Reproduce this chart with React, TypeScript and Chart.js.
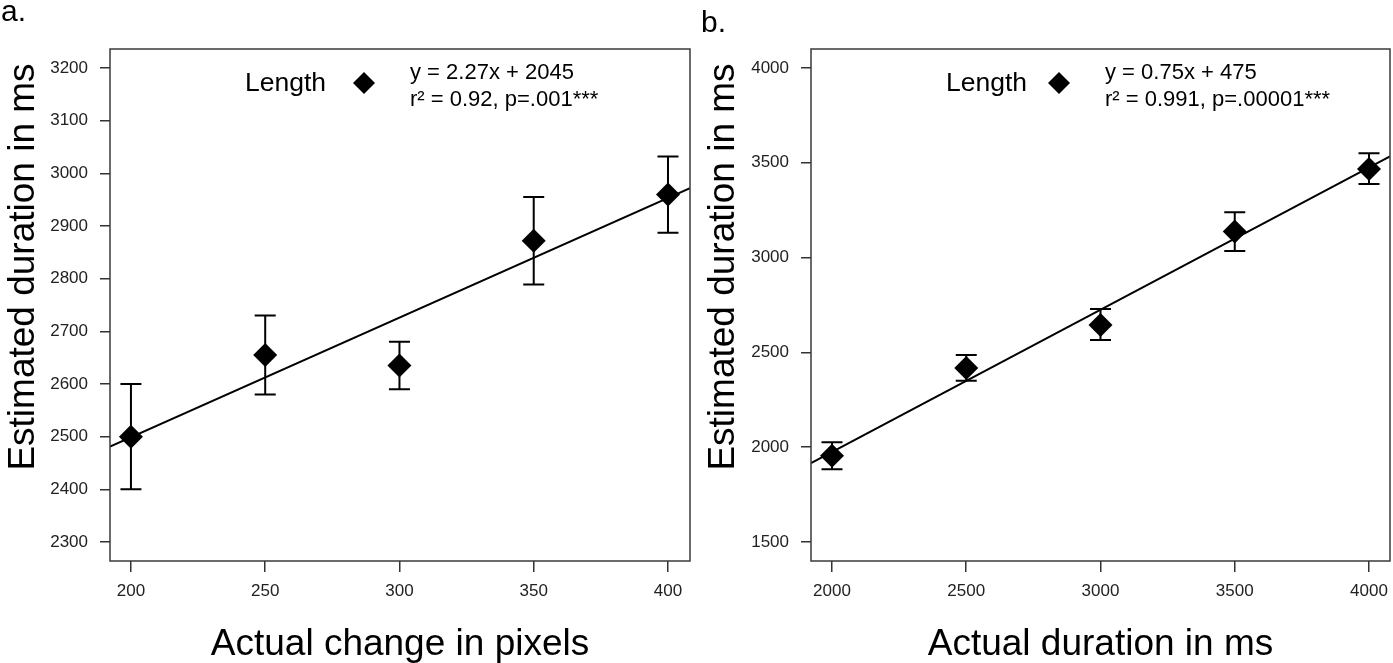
import React, { useEffect, useRef } from 'react';
import { Chart, registerables } from 'chart.js';

Chart.register(...registerables);

const FONT = '"Liberation Sans", Arial, Helvetica, sans-serif';

// Panel a: estimated duration against change in length (pixels)
const pixelChange = [200, 250, 300, 350, 400];
const pixelEstimate = [2500, 2655, 2635, 2872, 2960];
const pixelLow = [2400, 2580, 2590, 2789, 2887];
const pixelHigh = [2600, 2730, 2680, 2955, 3032];
const pixelFit = [2.27, 2045]; // slope, intercept
const pixelXTicks = [200, 250, 300, 350, 400];
const pixelYTicks = [2300, 2400, 2500, 2600, 2700, 2800, 2900, 3000, 3100, 3200];
const pixelXRange = [192.2, 408.2];
const pixelYRange = [2264, 3236];

// Panel b: estimated duration against actual duration (ms)
const durationActual = [2000, 2500, 3000, 3500, 4000];
const durationEstimate = [1955, 2418, 2645, 3137, 3467];
const durationLow = [1884, 2350, 2565, 3035, 3388];
const durationHigh = [2026, 2486, 2729, 3239, 3550];
const durationFit = [0.75, 475]; // slope, intercept
const durationXTicks = [2000, 2500, 3000, 3500, 4000];
const durationYTicks = [1500, 2000, 2500, 3000, 3500, 4000];
const durationXRange = [1921.8, 4078.2];
const durationYRange = [1400, 4100];

type Panel = {
  letter: string;
  letterBaseline: number;
  xTitle: string;
  yTitle: string;
  equation: string[];
  xs: number[];
  ys: number[];
  low: number[];
  high: number[];
  fit: number[];
  xTicks: number[];
  yTicks: number[];
  xRange: number[];
  yRange: number[];
  left: number;
  width: number;
  yAxisWidth: number;
  rightPad: number;
  legendX: number;
  diamondX: number;
  equationX: number;
};

const HEIGHT = 663;

const panels: Panel[] = [
  {
    letter: 'a.',
    letterBaseline: 21,
    xTitle: 'Actual change in pixels',
    yTitle: 'Estimated duration in ms',
    equation: ['y = 2.27x + 2045', 'r\u00B2 = 0.92, p=.001***'],
    xs: pixelChange,
    ys: pixelEstimate,
    low: pixelLow,
    high: pixelHigh,
    fit: pixelFit,
    xTicks: pixelXTicks,
    yTicks: pixelYTicks,
    xRange: pixelXRange,
    yRange: pixelYRange,
    left: 0,
    width: 700,
    yAxisWidth: 110,
    rightPad: 10,
    legendX: 245,
    diamondX: 364,
    equationX: 410,
  },
  {
    letter: 'b.',
    letterBaseline: 32,
    xTitle: 'Actual duration in ms',
    yTitle: 'Estimated duration in ms',
    equation: ['y = 0.75x + 475', 'r\u00B2 = 0.991, p=.00001***'],
    xs: durationActual,
    ys: durationEstimate,
    low: durationLow,
    high: durationHigh,
    fit: durationFit,
    xTicks: durationXTicks,
    yTicks: durationYTicks,
    xRange: durationXRange,
    yRange: durationYRange,
    left: 700,
    width: 693,
    yAxisWidth: 111,
    rightPad: 3,
    legendX: 246,
    diamondX: 359,
    equationX: 405,
  },
];

function decorPlugin(p: Panel) {
  return {
    id: 'panelDecor',
    beforeDatasetsDraw(chart: any) {
      const { ctx, scales } = chart;
      const x = scales.x;
      const y = scales.y;
      const cap = 10.5;
      ctx.save();
      ctx.strokeStyle = '#000';
      ctx.lineWidth = 2;
      p.xs.forEach((xv, i) => {
        const px = x.getPixelForValue(xv);
        const top = y.getPixelForValue(p.high[i]);
        const bot = y.getPixelForValue(p.low[i]);
        ctx.beginPath();
        ctx.moveTo(px, top);
        ctx.lineTo(px, bot);
        ctx.moveTo(px - cap, top);
        ctx.lineTo(px + cap, top);
        ctx.moveTo(px - cap, bot);
        ctx.lineTo(px + cap, bot);
        ctx.stroke();
      });
      ctx.restore();
    },
    afterDraw(chart: any) {
      const { ctx, chartArea } = chart;
      ctx.save();
      // frame around the plotting region
      ctx.strokeStyle = '#3a3a3a';
      ctx.lineWidth = 1.5;
      ctx.strokeRect(
        chartArea.left,
        chartArea.top,
        chartArea.right - chartArea.left,
        chartArea.bottom - chartArea.top
      );

      ctx.fillStyle = '#000';
      // panel letter
      ctx.font = `30px ${FONT}`;
      ctx.textAlign = 'left';
      ctx.textBaseline = 'alphabetic';
      ctx.fillText(p.letter, 1, p.letterBaseline);

      // x-axis title
      ctx.font = `37px ${FONT}`;
      ctx.textAlign = 'center';
      ctx.fillText(p.xTitle, (chartArea.left + chartArea.right) / 2, 655);

      // y-axis title
      ctx.save();
      ctx.translate(34, 267);
      ctx.rotate(-Math.PI / 2);
      ctx.fillText(p.yTitle, 0, 0);
      ctx.restore();

      // legend entry
      ctx.font = `26.5px ${FONT}`;
      ctx.textAlign = 'left';
      ctx.fillText('Length', p.legendX, 91);
      const cx = p.diamondX;
      const cy = 83;
      const r = 11;
      ctx.beginPath();
      ctx.moveTo(cx, cy - r);
      ctx.lineTo(cx + r, cy);
      ctx.lineTo(cx, cy + r);
      ctx.lineTo(cx - r, cy);
      ctx.closePath();
      ctx.fill();

      // regression equation
      ctx.font = `22px ${FONT}`;
      ctx.fillText(p.equation[0], p.equationX, 79);
      ctx.fillText(p.equation[1], p.equationX, 106);
      ctx.restore();
    },
  };
}

function PanelChart({ p }: { p: Panel }) {
  const ref = useRef<HTMLCanvasElement>(null);

  useEffect(() => {
    if (!ref.current) return;
    const [slope, intercept] = p.fit;
    const fitLine = p.xRange.map((xv) => ({ x: xv, y: slope * xv + intercept }));
    const points = p.xs.map((xv, i) => ({ x: xv, y: p.ys[i] }));

    const tickColor = '#333';
    const chart = new Chart(ref.current, {
      type: 'scatter',
      data: {
        datasets: [
          {
            type: 'line',
            data: fitLine,
            borderColor: '#000',
            borderWidth: 2,
            pointRadius: 0,
            fill: false,
            tension: 0,
          } as any,
          {
            type: 'scatter',
            data: points,
            pointStyle: 'rectRot',
            pointRadius: 12,
            pointHoverRadius: 12,
            backgroundColor: '#000',
            borderColor: '#000',
            borderWidth: 0,
          } as any,
        ],
      },
      options: {
        responsive: false,
        animation: false,
        events: [],
        layout: {
          autoPadding: false,
          padding: { left: 0, right: p.rightPad, top: 49, bottom: 0 },
        },
        plugins: { legend: { display: false }, tooltip: { enabled: false } },
        scales: {
          x: {
            type: 'linear',
            position: 'bottom',
            min: p.xRange[0],
            max: p.xRange[1],
            afterBuildTicks: (scale: any) => {
              scale.ticks = p.xTicks.map((v) => ({ value: v }));
            },
            afterFit: (scale: any) => {
              scale.height = 102;
              scale.paddingLeft = 0;
              scale.paddingRight = 0;
            },
            ticks: {
              color: '#222',
              font: { family: FONT, size: 17 },
              padding: 9,
              maxRotation: 0,
              autoSkip: false,
              callback: (v: any) => String(v),
            },
            grid: {
              drawOnChartArea: false,
              drawTicks: true,
              tickLength: 11,
              color: tickColor,
              lineWidth: 1.5,
            },
            border: { display: false },
          },
          y: {
            type: 'linear',
            min: p.yRange[0],
            max: p.yRange[1],
            afterBuildTicks: (scale: any) => {
              scale.ticks = p.yTicks.map((v) => ({ value: v }));
            },
            afterFit: (scale: any) => {
              scale.width = p.yAxisWidth;
              scale.paddingTop = 0;
              scale.paddingBottom = 0;
            },
            ticks: {
              color: '#222',
              font: { family: FONT, size: 17 },
              padding: 12,
              autoSkip: false,
              callback: (v: any) => String(v),
            },
            grid: {
              drawOnChartArea: false,
              drawTicks: true,
              tickLength: 10,
              color: tickColor,
              lineWidth: 1.5,
            },
            border: { display: false },
          },
        },
      } as any,
      plugins: [decorPlugin(p)],
    });
    return () => chart.destroy();
  }, [p]);

  return (
    <canvas
      ref={ref}
      width={p.width}
      height={HEIGHT}
      style={{ position: 'absolute', left: p.left, top: 0, width: p.width, height: HEIGHT }}
    />
  );
}

export default function App() {
  return (
    <div
      style={{
        position: 'absolute',
        left: 0,
        top: 0,
        width: 1393,
        height: HEIGHT,
        background: '#fff',
        overflow: 'hidden',
      }}
    >
      {panels.map((p) => (
        <PanelChart key={p.letter} p={p} />
      ))}
    </div>
  );
}
